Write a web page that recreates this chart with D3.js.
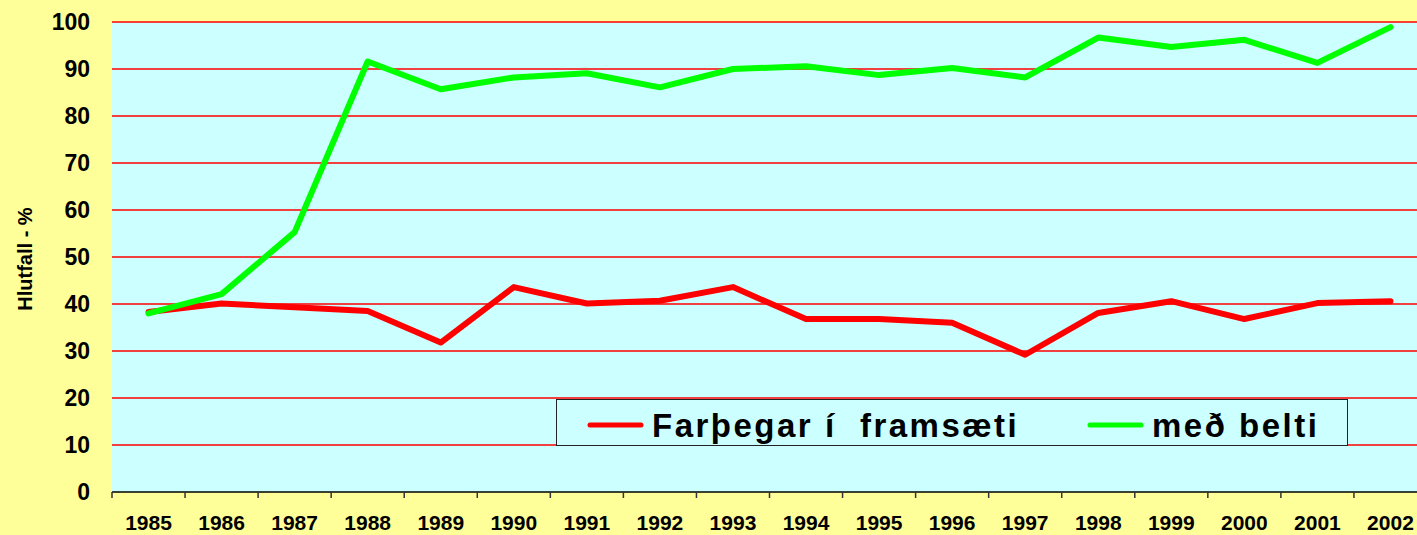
<!DOCTYPE html>
<html>
<head>
<meta charset="utf-8">
<script src="https://cdn.jsdelivr.net/npm/d3@7"></script>
<style>
  body { margin: 0; background: #ffff99; overflow: hidden; }
  svg { display: block; font-family: "Liberation Sans", Arial, sans-serif; font-weight: bold; }
</style>
</head>
<body>
<div id="chart"></div>
<script>
// data
var years = ["1985", "1986", "1987", "1988", "1989", "1990", "1991", "1992", "1993",
             "1994", "1995", "1996", "1997", "1998", "1999", "2000", "2001", "2002"];
var farthegar = [38.3, 40.1, 39.3, 38.5, 31.8, 43.6, 40.1, 40.7, 43.6,
                 36.8, 36.8, 36.0, 29.2, 38.1, 40.6, 36.8, 40.2, 40.6];
var medBelti = [38.0, 42.1, 55.3, 91.6, 85.7, 88.2, 89.1, 86.1, 90.0,
                90.6, 88.7, 90.2, 88.2, 96.7, 94.7, 96.2, 91.3, 98.9];
var yTicks = [0, 10, 20, 30, 40, 50, 60, 70, 80, 90, 100];
var seriesNames = ["Farþegar í  framsæti", "með belti"];
var seriesColors = ["#ff0000", "#00ff00"];

var W = 1417, H = 535;
var margin = {top: 22, left: 112, bottom: 43};
var plotRight = 1427;   // plot runs past the right edge of the window
var height = H - margin.top - margin.bottom;

var svg = d3.select("#chart").append("svg")
    .attr("width", W)
    .attr("height", H);

svg.append("rect")
    .attr("width", W).attr("height", H)
    .attr("fill", "#ffff99");

var x = d3.scaleBand()
    .domain(years)
    .range([margin.left, plotRight])
    .paddingInner(0).paddingOuter(0);

var y = d3.scaleLinear()
    .domain([0, 100])
    .range([margin.top + height, margin.top]);

// plot area
svg.append("rect")
    .attr("x", margin.left).attr("y", y(100))
    .attr("width", plotRight - margin.left)
    .attr("height", y(0) - y(100))
    .attr("fill", "#ccffff");

// grid lines
svg.append("g")
    .selectAll("line")
    .data(yTicks.filter(function (d) { return d > 0; }))
    .enter()
    .append("line")
        .attr("x1", margin.left).attr("x2", plotRight)
        .attr("y1", function (d) { return y(d); })
        .attr("y2", function (d) { return y(d); })
        .attr("stroke", "#ff0000")
        .attr("stroke-width", 1.6);

// y axis (labels only)
var yAxis = svg.append("g")
    .attr("transform", "translate(" + margin.left + ",0)")
    .call(d3.axisLeft(y).tickValues(yTicks).tickSize(0).tickPadding(22));
yAxis.select(".domain").remove();
yAxis.selectAll("text")
    .attr("font-size", 23)
    .attr("font-weight", "bold")
    .attr("font-family", "'Liberation Sans', Arial, sans-serif")
    .attr("fill", "#000");

// x axis with ticks on the band edges
var xAxis = svg.append("g")
    .attr("transform", "translate(0," + y(0) + ")");
xAxis.append("line")
    .attr("x1", margin.left).attr("x2", plotRight)
    .attr("stroke", "#000").attr("stroke-width", 1.5);
xAxis.selectAll(".tk")
    .data(years)
    .enter()
    .append("line")
        .attr("class", "tk")
        .attr("x1", function (d) { return x(d); })
        .attr("x2", function (d) { return x(d); })
        .attr("y1", 0).attr("y2", 6)
        .attr("stroke", "#333").attr("stroke-width", 1.5);
xAxis.selectAll(".lbl")
    .data(years)
    .enter()
    .append("text")
        .attr("class", "lbl")
        .attr("x", function (d) { return x(d) + x.bandwidth() / 2; })
        .attr("y", 38)
        .attr("text-anchor", "middle")
        .attr("font-size", 21)
        .text(function (d) { return d; });

// y axis title
svg.append("text")
    .attr("transform", "translate(32,259) rotate(-90)")
    .attr("text-anchor", "middle")
    .attr("font-size", 20)
    .text("Hlutfall - %");

// series lines
var line = d3.line()
    .x(function (d, i) { return x(years[i]) + x.bandwidth() / 2; })
    .y(function (d) { return y(d); });

[farthegar, medBelti].forEach(function (s, k) {
    svg.append("path")
        .datum(s)
        .attr("d", line)
        .attr("fill", "none")
        .attr("stroke", seriesColors[k])
        .attr("stroke-width", 6)
        .attr("stroke-linejoin", "round")
        .attr("stroke-linecap", "round");
});

// legend
var legend = svg.append("g");
legend.append("rect")
    .attr("x", 556.5).attr("y", 399.5)
    .attr("width", 791).attr("height", 46)
    .attr("fill", "#ccffff")
    .attr("stroke", "#222").attr("stroke-width", 1);

var legendX = [590, 1090];
seriesNames.forEach(function (name, k) {
    legend.append("line")
        .attr("x1", legendX[k]).attr("x2", legendX[k] + 51)
        .attr("y1", 425).attr("y2", 425)
        .attr("stroke", seriesColors[k])
        .attr("stroke-width", 5)
        .attr("stroke-linecap", "round");
    legend.append("text")
        .attr("x", legendX[k] + 62)
        .attr("y", 437)
        .attr("font-size", 33)
        .attr("letter-spacing", 2.5)
        .attr("xml:space", "preserve")
        .style("white-space", "pre")
        .text(name);
});
</script>
</body>
</html>
